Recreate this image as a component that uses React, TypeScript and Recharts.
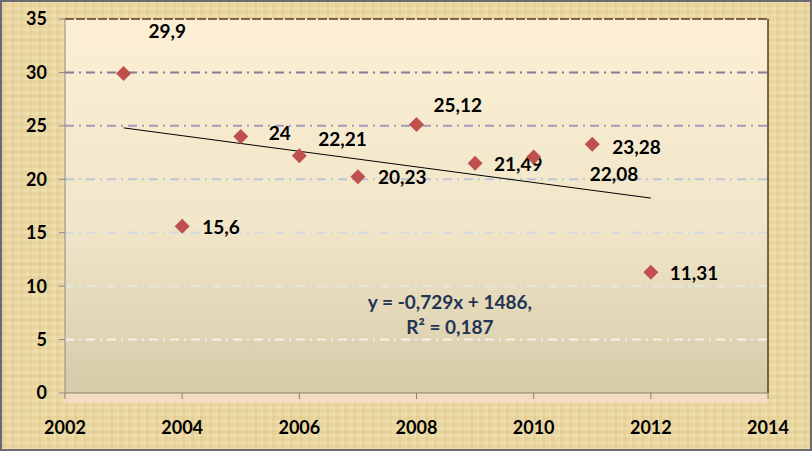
import React from 'react';
import {
  ScatterChart, Scatter, XAxis, YAxis, ReferenceLine, ReferenceArea, ReferenceDot,
} from 'recharts';

// Values
const YEARS = [2003, 2004, 2005, 2006, 2007, 2008, 2009, 2010, 2011, 2012];
const VALUES = [29.9, 15.6, 24, 22.21, 20.23, 25.12, 21.49, 22.08, 23.28, 11.31];
const X_TICKS = [2002, 2004, 2006, 2008, 2010, 2012, 2014];
const Y_TICKS = [0, 5, 10, 15, 20, 25, 30, 35];
const TREND_START = { x: 2003, y: 24.81 };
const TREND_END = { x: 2012, y: 18.24 };
const EQUATION = ['y = -0,729x + 1486,', 'R² = 0,187'];

const points = YEARS.map((x, i) => ({ x, y: VALUES[i] }));

// label nudges (px) per point, in picture order
const LABEL_NUDGE: Record<number, [number, number]> = {
  2003: [25, -43], 2004: [20, 0], 2005: [28, -4], 2006: [19, -17], 2007: [20, 0],
  2008: [17, -20], 2009: [19, 0], 2010: [56, 16], 2011: [20, 2], 2012: [19, 0],
};

// dash-dot grid fading out towards the bottom
const GRID_COLORS: Record<number, string> = {
  30: '#857b93', 25: '#a79cba', 20: '#bcc6d6', 15: '#d3dae2', 10: '#e4e6e4', 5: '#f3f1ea',
};

const FONT = "Lato, 'Open Sans', sans-serif";
const fmt = (v: number) => String(v).replace('.', ',');

function Diamond(props: any) {
  const { cx, cy, payload } = props;
  if (cx == null || cy == null) return null;
  const s = 7.5;
  const [dx, dy] = LABEL_NUDGE[payload.x] || [20, 0];
  return (
    <g>
      <polygon points={`${cx},${cy - s} ${cx + s},${cy} ${cx},${cy + s} ${cx - s},${cy}`} fill="#c0504d" />
      <text x={cx + dx} y={cy + dy} dominantBaseline="central" fontFamily={FONT} fontWeight={700}
        fontSize={19} fill="#000">{fmt(payload.y)}</text>
    </g>
  );
}

function EquationLabel(props: any) {
  const { viewBox } = props;
  const cx = viewBox.x + (viewBox.width || 0) / 2;
  const cy = viewBox.y + (viewBox.height || 0) / 2;
  return (
    <text x={cx} y={cy} textAnchor="middle" fontFamily={FONT} fontWeight={700} fontSize={19} fill="#1f3553">
      <tspan x={cx} dy={-5}>{EQUATION[0]}</tspan>
      <tspan x={cx} dy={25}>{EQUATION[1]}</tspan>
    </text>
  );
}

export default function App() {
  return (
    <div style={{
      position: 'absolute', left: 0, top: 0, width: 812, height: 451,
      background: 'repeating-linear-gradient(90deg, rgba(255,255,255,0.10) 0 2px, rgba(140,100,30,0.05) 2px 5px, rgba(255,255,255,0) 5px 9px), repeating-linear-gradient(0deg, rgba(255,250,220,0.10) 0 3px, rgba(150,110,40,0.05) 3px 7px), #ecd9a2',
      boxShadow: 'inset 0 0 0 2px #6b6a72',
    }}>
      <ScatterChart width={812} height={451} margin={{ top: 19, right: 44, bottom: 18, left: 20 }}>
        <defs>
          <linearGradient id="plotBg" x1="0" y1="0" x2="0" y2="1">
            <stop offset="0%" stopColor="#fcefd5" />
            <stop offset="55%" stopColor="#f1e6c9" />
            <stop offset="100%" stopColor="#d6cba8" />
          </linearGradient>
        </defs>
        <XAxis type="number" dataKey="x" domain={[2002, 2014]} ticks={X_TICKS} interval={0}
          axisLine={{ stroke: '#8d806c' }} tickLine={{ stroke: '#8d806c' }} tickSize={6} tickMargin={22}
          height={40} tick={{ fontFamily: FONT, fontWeight: 700, fontSize: 18, fill: '#000' }} />
        <YAxis type="number" dataKey="y" domain={[0, 35]} ticks={Y_TICKS} interval={0}
          axisLine={{ stroke: '#8a8a8a' }} tickLine={{ stroke: '#8a8a8a' }} tickSize={6} tickMargin={12}
          width={45} tick={{ fontFamily: FONT, fontWeight: 700, fontSize: 18, fill: '#000' }} />
        <ReferenceArea x1={2002} x2={2014} y1={0} y2={35} fill="url(#plotBg)" fillOpacity={1} stroke="none" />
        <ReferenceArea x1={2002} x2={2014} y1={-0.95} y2={0} fill="#f6dcc6" fillOpacity={0.85} stroke="none"
          ifOverflow="visible" />
        {Object.keys(GRID_COLORS).map(k => (
          <ReferenceLine key={k} y={Number(k)} stroke={GRID_COLORS[Number(k)]} strokeWidth={2}
            strokeDasharray="9 5 2 5" />
        ))}
        <ReferenceLine y={35} stroke="#5b3a1e" strokeWidth={1.5} strokeDasharray="9 2" />
        <ReferenceLine x={2014} stroke="#5b3a1e" strokeWidth={1.5} />
        <ReferenceLine segment={[TREND_START, TREND_END]} stroke="#000" strokeWidth={1} />
        <ReferenceDot x={2008.57} y={7.4} r={0} fill="none" stroke="none" label={<EquationLabel />} />
        <Scatter data={points} shape={<Diamond />} isAnimationActive={false} />
      </ScatterChart>
    </div>
  );
}
